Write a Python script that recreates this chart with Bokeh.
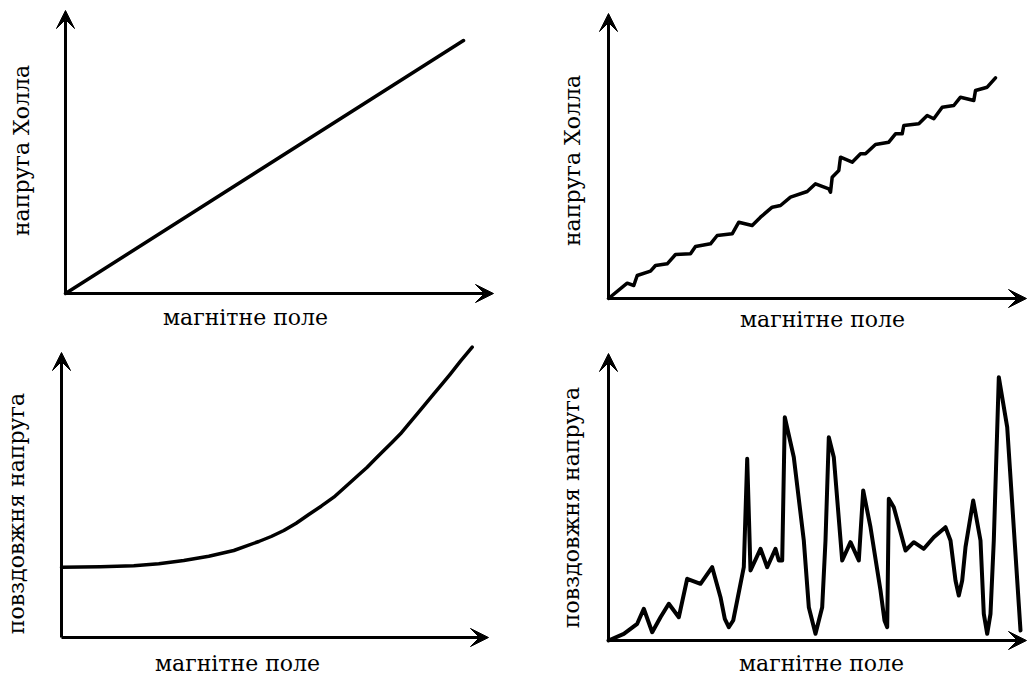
from bokeh.plotting import figure
from bokeh.models import Range1d, Arrow, VeeHead
from bokeh.core.properties import value
from bokeh.layouts import column, row
from bokeh.embed import file_html
from bokeh.resources import INLINE

# ---- texts ----
field_label = "магнітне поле"
hall_label = "напруга Холла"
long_label = "повздовжня напруга"

# ---- data (arbitrary units) ----
# ideal Hall voltage vs field
hall_ideal_b = [0.0, 39.8]
hall_ideal_v = [0.0, 25.3]

# measured Hall voltage (step-like noisy line)
hall_real_b = [0, 1.87, 2.53, 2.87, 4.2, 4.7, 5.87, 6.7, 8.2, 8.7, 10.2, 10.87, 12.37,
               13.03, 14.37, 15.2, 16.37, 17.2, 18.2, 19.87, 20.7, 22.03, 22.2, 22.37,
               23.03, 23.2, 24.37, 25.2, 25.7, 26.7, 28.03, 28.7, 29.37, 29.53, 31.03,
               31.87, 32.53, 33.37, 34.53, 35.2, 36.53, 36.7, 37.87, 38.7]
hall_real_v = [0, 1.53, 1.3, 2.3, 2.73, 3.3, 3.47, 4.4, 4.47, 5.2, 5.47, 6.3, 6.47,
               7.63, 7.3, 8.13, 9.13, 9.3, 10.13, 10.7, 11.47, 10.97, 10.63, 12.13,
               12.8, 14.13, 13.63, 14.47, 14.47, 15.4, 15.63, 16.47, 16.47, 17.3, 17.47,
               18.3, 17.97, 19.13, 19.3, 20.13, 19.8, 20.8, 21.13, 22.07]

# ideal longitudinal voltage vs field
long_ideal_b = [0.0, 3.9, 7.23, 9.73, 12.23, 14.73, 17.23, 19.73, 20.97, 22.23, 23.47,
                24.73, 25.97, 27.23, 28.9, 29.73, 30.57, 31.4, 32.23, 33.07, 33.9, 34.73,
                35.57, 36.4, 37.23, 38.07, 38.9, 39.9, 41.07]
long_ideal_v = [7.03, 7.07, 7.17, 7.37, 7.7, 8.13, 8.7, 9.6, 10.1, 10.7, 11.43,
                12.3, 13.13, 14.03, 15.53, 16.27, 17.03, 17.87, 18.7, 19.53, 20.37, 21.37,
                22.37, 23.37, 24.37, 25.37, 26.37, 27.63, 29.03]

# measured longitudinal voltage (oscillating)
long_real_b = [0, 1.53, 2.87, 3.53, 4.37, 5.2, 6.03, 7.03, 7.87, 9.2, 10.37, 11.2, 11.63,
               12.03, 12.47, 12.87, 13.53, 13.87, 14.2, 15.2, 15.87, 16.7, 17.03, 17.37,
               17.63, 18.53, 19.53, 20.03, 20.7, 21.37, 21.7, 22.03, 22.53, 23.37, 24.2,
               25.03, 25.47, 26.2, 27.2, 27.6, 27.87, 28.03, 28.53, 29.7, 30.53, 31.53,
               32.53, 33.7, 34.2, 34.7, 35.03, 35.37, 35.7, 36.47, 37.2, 37.53, 37.87,
               38.2, 38.53, 39.03, 39.87, 41.2]
long_real_v = [0, 0.67, 1.67, 3.17, 0.83, 2.33, 3.67, 2.33, 6.17, 5.67, 7.33, 4.33, 2.17,
               1.33, 2.0, 4.0, 7.33, 18.17, 7.0, 9.17, 7.33, 9.17, 8.0, 8.0,
               22.33, 18.33, 10.0, 3.33, 0.67, 3.33, 10.0, 20.33, 18.33, 8.0, 9.83,
               8.0, 15.0, 11.33, 5.0, 2.0, 1.33, 14.17, 13.33, 9.0, 9.83, 9.17,
               10.33, 11.33, 10.0, 6.0, 4.5, 6.0, 9.33, 14.0, 10.0, 2.67, 0.67,
               2.67, 10.0, 26.33, 21.33, 1.0]

FONT = "DejaVu Serif"
FONT_SIZE = "22px"


def panel(width, height, x_rng, y_rng, ax_x, ax_y, xs, ys, lw,
          ylabel, xlab_pos, ylab_pos):
    p = figure(width=width, height=height, output_backend="svg",
               toolbar_location=None, x_axis_location=None, y_axis_location=None,
               x_range=Range1d(*x_rng), y_range=Range1d(*y_rng),
               min_border_left=0, min_border_right=0,
               min_border_top=0, min_border_bottom=0)
    p.outline_line_color = None
    p.grid.visible = False
    p.background_fill_color = "white"
    p.border_fill_color = "white"

    p.line(xs, ys, line_color="black", line_width=lw, line_join="round", line_cap="round")

    for (x1, y1) in [(ax_x, 0), (0, ax_y)]:
        p.add_layout(Arrow(x_start=0, y_start=0, x_end=x1, y_end=y1,
                           line_width=3, line_color="black", line_cap="butt",
                           end=VeeHead(size=18, fill_color="black", line_color="black",
                                       line_width=1)))

    p.text(x=[xlab_pos[0]], y=[xlab_pos[1]], text=[field_label],
           text_font=value(FONT), text_font_size=value(FONT_SIZE), text_color="black",
           text_align="center", text_baseline="middle")
    p.text(x=[ylab_pos[0]], y=[ylab_pos[1]], text=[ylabel], angle=1.5708,
           text_font=value(FONT), text_font_size=value(FONT_SIZE), text_color="black",
           text_align="center", text_baseline="middle")
    return p


p1 = panel(535, 340, (-6.5, 47.0), (-4.7, 29.3), 42.8, 28.3,
           hall_ideal_b, hall_ideal_v, 3.5, hall_label, (18.0, -2.4), (-4.41, 14.3))
p2 = panel(492, 340, (-7.3, 41.9), (-4.2, 29.8), 41.8, 28.5,
           hall_real_b, hall_real_v, 3.5, hall_label, (21.4, -2.05), (-3.56, 13.8))
p3 = panel(535, 336, (-6.1, 47.4), (-3.9, 29.7), 42.7, 28.5,
           long_ideal_b, long_ideal_v, 3.5, long_label, (17.6, -2.6), (-4.46, 12.4))
p4 = panel(492, 336, (-7.3, 41.9), (-3.6, 30.0), 41.8, 28.7,
           long_real_b, long_real_v, 4, long_label, (21.3, -2.3), (-3.66, 13.3))

layout = column(row(p1, p2), row(p3, p4))
open("out.html", "w").write(file_html(layout, INLINE))
